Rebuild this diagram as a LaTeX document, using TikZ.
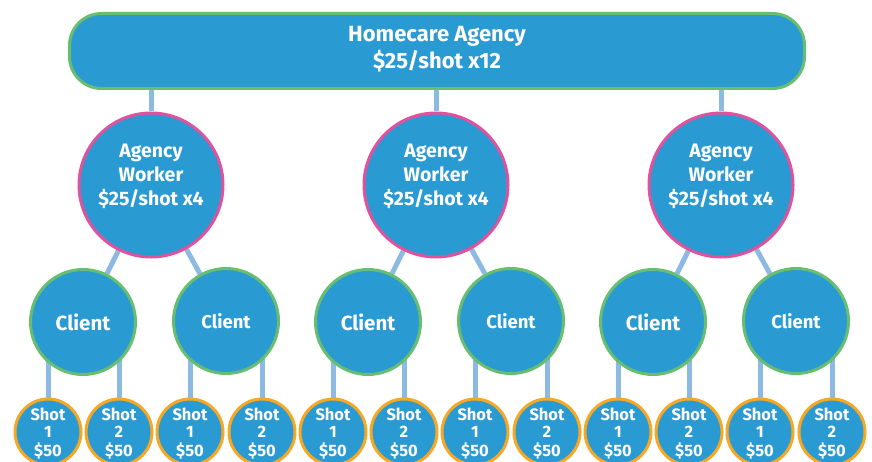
\documentclass[tikz,border=0pt]{standalone}
\usepackage{fontspec}
\setmainfont{Fira Sans}
\usetikzlibrary{backgrounds}
\definecolor{boxblue}{RGB}{42,154,211}
\definecolor{edgegreen}{RGB}{104,190,112}
\definecolor{edgepink}{RGB}{224,82,156}
\definecolor{edgeorange}{RGB}{246,168,36}
\definecolor{linkblue}{RGB}{141,186,227}
\tikzset{
  agencybox/.style={draw=edgegreen, line width=3pt, fill=boxblue, rounded corners=32pt,
    minimum width=735pt, minimum height=75pt, inner sep=0pt, text=white, align=center,
    font=\bfseries\fontsize{22}{27}\selectfont},
  workernode/.style={circle, draw=edgepink, line width=3pt, fill=boxblue, minimum size=144pt,
    inner sep=0pt, text=white, align=center, font=\bfseries\fontsize{19.5}{24}\selectfont},
  clientnode/.style={circle, draw=edgegreen, line width=3pt, fill=boxblue, minimum size=105pt,
    inner sep=0pt, text=white, align=center, font=\bfseries\fontsize{20.5}{24}\selectfont},
  clientsmall/.style={clientnode, font=\bfseries\fontsize{18.5}{22}\selectfont},
  shotnode/.style={circle, draw=edgeorange, line width=3pt, fill=boxblue, minimum size=66pt,
    inner sep=0pt, text=white, align=center, font=\bfseries\fontsize{16.5}{17}\selectfont},
  link/.style={draw=linkblue, line width=5pt}
}
\newcommand{\shotlabel}[1]{\raisebox{-7pt}[0pt][0pt]{\begin{tabular}{@{}c@{}}Shot\\#1\\\$50\end{tabular}}}
\begin{document}
\begin{tikzpicture}[x=1pt,y=-1pt]
\useasboundingbox (0,0) rectangle (872,462);
\clip (0,0) rectangle (872,462);
\node[agencybox] (bar) at (437,51) {\raisebox{-3.4pt}[0pt][0pt]{\begin{tabular}{@{}c@{}}Homecare Agency\\\$25/shot x12\end{tabular}}};
\foreach \g/\wx in {1/151,2/436,3/721}{
  \node[workernode] (w\g) at (\wx,185) {\raisebox{3pt}[0pt][0pt]{\begin{tabular}{@{}c@{}}Agency\\Worker\\\$25/shot x4\end{tabular}}};
  \pgfmathsetmacro{\ca}{\wx-68}
  \pgfmathsetmacro{\cb}{\wx+75}
  \node[clientnode] (c\g a) at (\ca,322) {Client};
  \node[clientsmall] (c\g b) at (\cb,321) {Client};
  \pgfmathsetmacro{\sa}{\wx-103}
  \pgfmathsetmacro{\sb}{\wx-32}
  \pgfmathsetmacro{\sc}{\wx+39}
  \pgfmathsetmacro{\sd}{\wx+111}
  \node[shotnode] (s\g a) at (\sa,432) {\shotlabel{1}};
  \node[shotnode] (s\g b) at (\sb,432) {\shotlabel{2}};
  \node[shotnode] (s\g c) at (\sc,432) {\shotlabel{1}};
  \node[shotnode] (s\g d) at (\sd,432) {\shotlabel{2}};
  \begin{pgfonlayer}{background}
    \draw[link] (w\g) -- (w\g |- bar);
    \draw[link] (w\g) -- (c\g a);
    \draw[link] (w\g) -- (c\g b);
    \draw[link] (s\g a) -- (s\g a |- c\g a);
    \draw[link] (s\g b) -- (s\g b |- c\g a);
    \draw[link] (s\g c) -- (s\g c |- c\g b);
    \draw[link] (s\g d) -- (s\g d |- c\g b);
  \end{pgfonlayer}
}
\end{tikzpicture}
\end{document}
